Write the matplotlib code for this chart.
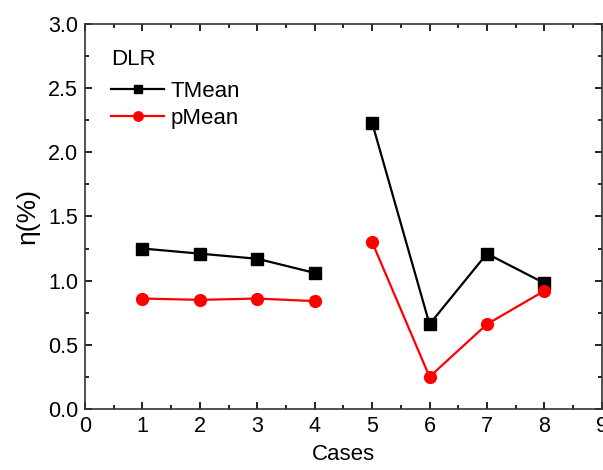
import numpy as np
import matplotlib.pyplot as plt
from matplotlib.ticker import MultipleLocator

plt.rcParams['font.family'] = ['Liberation Sans', 'DejaVu Sans']

cases = [1, 2, 3, 4, 5, 6, 7, 8]
t_mean = [1.25, 1.21, 1.17, 1.06, 2.23, 0.66, 1.21, 0.98]
p_mean = [0.86, 0.85, 0.86, 0.84, 1.30, 0.25, 0.66, 0.92]

x = np.array(cases, dtype=float)
# gap between case 4 and case 5
x_gap = np.insert(x, 4, np.nan)
t_gap = np.insert(np.array(t_mean), 4, np.nan)
p_gap = np.insert(np.array(p_mean), 4, np.nan)

fig = plt.figure(figsize=(6.03, 4.70), dpi=100)
ax = fig.add_axes([0.141, 0.130, 0.857, 0.819])

ax.plot(x_gap, t_gap, color='black', marker='s', markersize=8, lw=1.6, label='TMean')
ax.plot(x_gap, p_gap, color='red', marker='o', markersize=8.5, lw=1.6, label='pMean')

ax.set_xlim(0, 9)
ax.set_ylim(0, 3.0)
ax.xaxis.set_major_locator(MultipleLocator(1))
ax.xaxis.set_minor_locator(MultipleLocator(0.5))
ax.yaxis.set_major_locator(MultipleLocator(0.5))
ax.yaxis.set_minor_locator(MultipleLocator(0.25))
ax.yaxis.set_major_formatter(plt.FormatStrFormatter('%.1f'))
ax.tick_params(which='both', direction='in', top=True, right=True, labelsize=15.5)
ax.tick_params(which='major', length=5, width=1.2, pad=5)
ax.tick_params(which='minor', length=3, width=1.2)
for s in ax.spines.values():
    s.set_linewidth(1.2)
    s.set_color('#333333')

ax.set_xlabel('Cases', fontsize=16, labelpad=5)
ax.set_ylabel('η(%)', fontsize=19, labelpad=6)

leg = ax.legend(title='DLR', loc='upper left', frameon=False, fontsize=16,
                title_fontsize=16, handlelength=2.4, handletextpad=0.3,
                borderaxespad=0.3, labelspacing=0.25, markerscale=0.8,
                bbox_to_anchor=(0.02, 0.975))
leg._legend_box.align = 'left'
leg._legend_box.sep = 8

fig.savefig('out.png', dpi=100)
